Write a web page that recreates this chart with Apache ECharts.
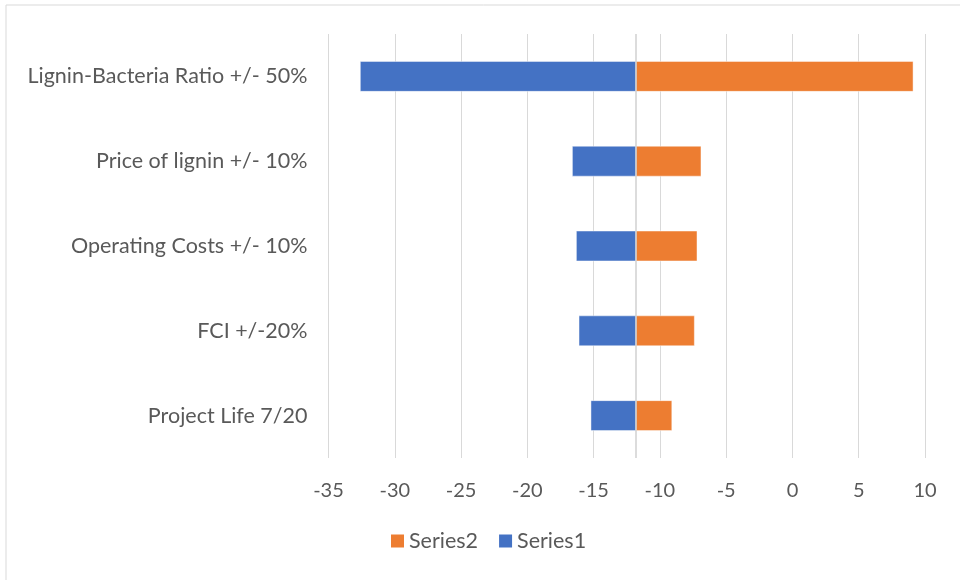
<!DOCTYPE html>
<html>
<head>
<meta charset="utf-8">
<script src="https://cdn.jsdelivr.net/npm/echarts@6/dist/echarts.min.js"></script>
<style>html,body{margin:0;padding:0;background:#fff;}#c{width:960px;height:580px;}</style>
</head>
<body>
<div id="c"></div>
<script>
const categories = ['Lignin-Bacteria Ratio +/- 50%', 'Price of lignin +/- 10%', 'Operating Costs +/- 10%', 'FCI +/-20%', 'Project Life 7/20'];
const baseValue = -11.8;
const series1 = [-32.6, -16.6, -16.3, -16.1, -15.2];
const series2 = [9.1, -6.9, -7.2, -7.4, -9.1];
const xTicks = { min: -35, max: 10, interval: 5 };

const FONT = 'Lato, "Noto Sans", sans-serif';
const TXT = '#595959';

function makeRender(color) {
  return function (params, api) {
    const v = api.value(0);
    const cat = api.value(1);
    const p0 = api.coord([baseValue, cat]);
    const p1 = api.coord([v, cat]);
    const h = api.size([0, 1])[1] * 0.353;
    const x = Math.min(p0[0], p1[0]);
    const w = Math.abs(p1[0] - p0[0]);
    return {
      type: 'rect',
      shape: { x: x, y: p0[1] - h / 2, width: w, height: h },
      style: { fill: color, stroke: 'rgba(255,255,255,0.45)', lineWidth: 1 }
    };
  };
}

const chart = echarts.init(document.getElementById('c'), null, { renderer: 'canvas' });
chart.setOption({
  animation: false,
  backgroundColor: '#fff',
  textStyle: { fontFamily: FONT },
  graphic: [{
    type: 'rect', silent: true, z: -10,
    shape: { x: 6, y: 5, width: 1000, height: 1000 },
    style: { fill: 'none', stroke: '#d9d9d9', lineWidth: 1 }
  }],
  grid: { left: 328.5, right: 35, top: 34, bottom: 122, containLabel: false },
  legend: {
    data: ['Series2', 'Series1'],
    left: 386, top: 525,
    icon: 'rect', itemWidth: 13, itemHeight: 13, itemGap: 21,
    textStyle: { color: TXT, fontSize: 21.5, fontFamily: FONT }
  },
  xAxis: {
    type: 'value', min: xTicks.min, max: xTicks.max, interval: xTicks.interval,
    axisLine: { show: false }, axisTick: { show: false },
    axisLabel: { color: TXT, fontSize: 20, margin: 23, fontFamily: FONT },
    splitLine: { show: true, lineStyle: { color: '#d9d9d9', width: 1 } }
  },
  yAxis: {
    type: 'category', data: categories, inverse: true,
    axisLine: { show: false }, axisTick: { show: false },
    axisLabel: { color: TXT, fontSize: 21.5, margin: 21, fontFamily: FONT },
    splitLine: { show: false }
  },
  series: [
    {
      name: 'Series1', type: 'custom', itemStyle: { color: '#4472C4' },
      renderItem: makeRender('#4472C4'),
      encode: { x: 0, y: 1 },
      data: series1.map((v, i) => [v, i]),
      markLine: {
        silent: true, symbol: 'none', label: { show: false },
        lineStyle: { color: '#d0d0d0', width: 1.5, type: 'solid' },
        data: [{ xAxis: baseValue }]
      }
    },
    {
      name: 'Series2', type: 'custom', itemStyle: { color: '#ED7D31' },
      renderItem: makeRender('#ED7D31'),
      encode: { x: 0, y: 1 },
      data: series2.map((v, i) => [v, i])
    }
  ]
});
</script>
</body>
</html>
